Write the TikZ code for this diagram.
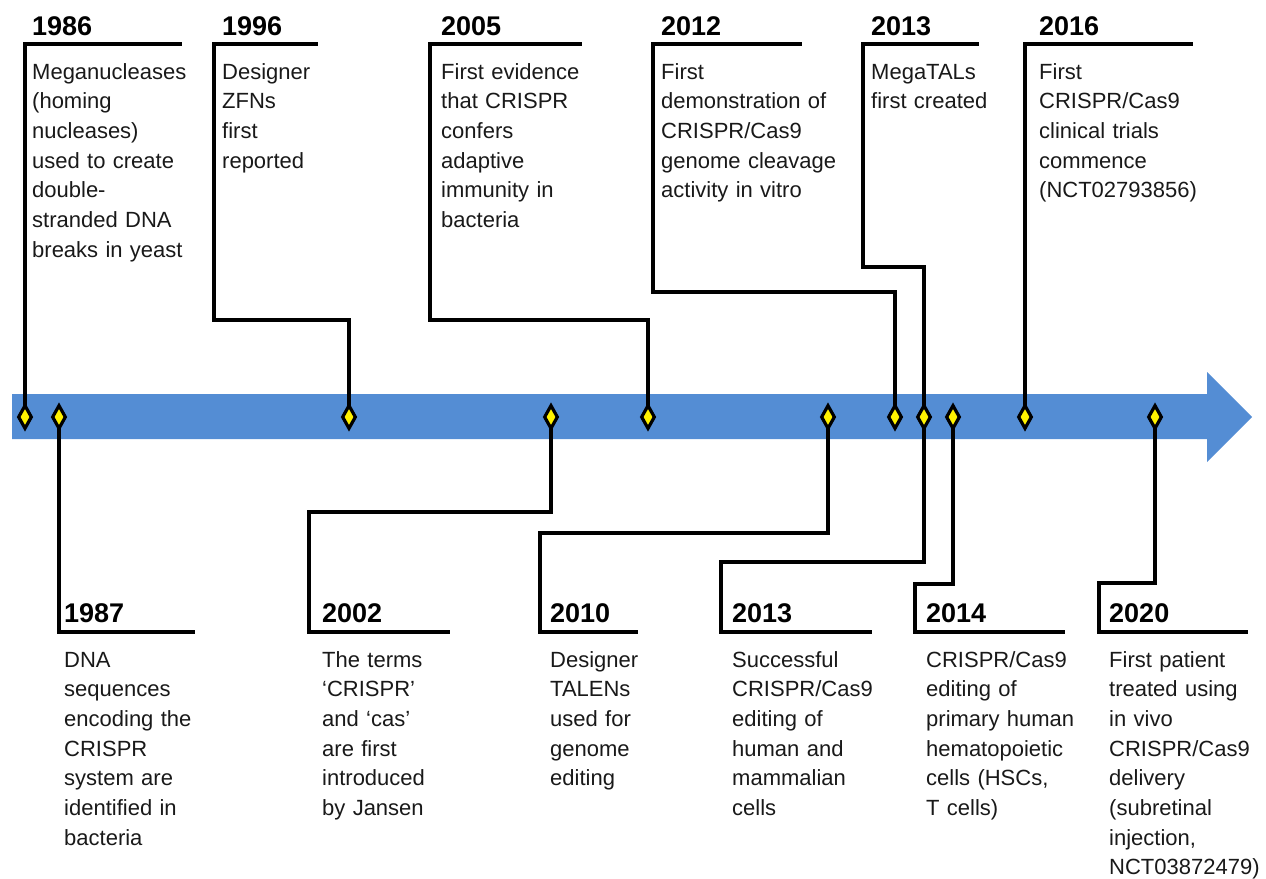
\documentclass[tikz,border=0pt]{standalone}
\usepackage{fontspec}
\setmainfont{Liberation Sans}
\usetikzlibrary{shapes.geometric}
\definecolor{band}{RGB}{84,141,212}
\definecolor{ink}{RGB}{25,25,25}

\begin{document}
\begin{tikzpicture}[x=1pt,y=-1pt,
  link/.style={line width=3.4pt},
  gem/.style={diamond,draw,line width=3.2pt,fill=yellow,inner sep=0pt,minimum width=14pt,minimum height=24pt},
  year/.style={anchor=base west,inner sep=0pt,font=\fontsize{27}{30}\selectfont\bfseries},
  note/.style={anchor=base west,inner sep=0pt,text width=220pt,align=left,text=ink,font=\fontsize{22}{29.7}\selectfont}]
\useasboundingbox (0,0) rectangle (1266,878);
% the time arrow
\fill[band] (12,394) -- (1207,394) -- (1207,372) -- (1252,417) -- (1207,462) -- (1207,439) -- (12,439) -- cycle;
% events on the arrow
\coordinate (A) at (25,417);
\coordinate (B) at (59,417);
\coordinate (C) at (349,417);
\coordinate (D) at (551,417);
\coordinate (E) at (648,417);
\coordinate (F) at (828,417);
\coordinate (G) at (895,417);
\coordinate (H) at (924,417);
\coordinate (I) at (953,417);
\coordinate (J) at (1025,417);
\coordinate (K) at (1155,417);
% corners of the callouts above
\coordinate (t86) at (25,44);   \coordinate (r86) at (182,44);
\coordinate (k96) at (214,320); \coordinate (t96) at (214,44);  \coordinate (r96) at (318,44);
\coordinate (k05) at (430,320); \coordinate (t05) at (430,44);  \coordinate (r05) at (582,44);
\coordinate (k12) at (653,292); \coordinate (t12) at (653,44);  \coordinate (r12) at (802,44);
\coordinate (k13) at (863,267); \coordinate (t13) at (863,44);  \coordinate (r13) at (979,44);
\coordinate (t16) at (1025,44); \coordinate (r16) at (1193,44);
% corners of the callouts below
\coordinate (t87) at (59,632);  \coordinate (r87) at (195,632);
\coordinate (k02) at (309,512); \coordinate (t02) at (309,632); \coordinate (r02) at (450,632);
\coordinate (k10) at (540,533); \coordinate (t10) at (540,632); \coordinate (r10) at (638,632);
\coordinate (k13b) at (721,562); \coordinate (t13b) at (721,632); \coordinate (r13b) at (872,632);
\coordinate (k14) at (915,584); \coordinate (t14) at (915,632); \coordinate (r14) at (1065,632);
\coordinate (k20) at (1099,583); \coordinate (t20) at (1099,632); \coordinate (r20) at (1248,632);
\draw[link] (A) -- (t86) -- (r86);
\draw[link] (C) |- (k96) -- (t96) -- (r96);
\draw[link] (E) |- (k05) -- (t05) -- (r05);
\draw[link] (G) |- (k12) -- (t12) -- (r12);
\draw[link] (H) |- (k13) -- (t13) -- (r13);
\draw[link] (J) -- (t16) -- (r16);
\draw[link] (B) -- (t87) -- (r87);
\draw[link] (D) |- (k02) -- (t02) -- (r02);
\draw[link] (F) |- (k10) -- (t10) -- (r10);
\draw[link] (H) |- (k13b) -- (t13b) -- (r13b);
\draw[link] (I) |- (k14) -- (t14) -- (r14);
\draw[link] (K) |- (k20) -- (t20) -- (r20);
\node[gem] (gA) at (A) {};
\node[gem] (gB) at (B) {};
\node[gem] (gC) at (C) {};
\node[gem] (gD) at (D) {};
\node[gem] (gE) at (E) {};
\node[gem] (gF) at (F) {};
\node[gem] (gG) at (G) {};
\node[gem] (gH) at (H) {};
\node[gem] (gI) at (I) {};
\node[gem] (gJ) at (J) {};
\node[gem] (gK) at (K) {};
% texts above
\node[year] (y86) at (32,35) {1986};
\node[note] (n86) at (32,79) {Meganucleases\\(homing\\nucleases)\\used to create\\double-\\stranded DNA\\breaks in yeast};
\node[year] (y96) at (222,35) {1996};
\node[note] (n96) at (222,79) {Designer\\ZFNs\\first\\reported};
\node[year] (y05) at (441,35) {2005};
\node[note] (n05) at (441,79) {First evidence\\that CRISPR\\confers\\adaptive\\immunity in\\bacteria};
\node[year] (y12) at (661,35) {2012};
\node[note] (n12) at (661,79) {First\\demonstration of\\CRISPR/Cas9\\genome cleavage\\activity in vitro};
\node[year] (y13) at (871,35) {2013};
\node[note] (n13) at (871,79) {MegaTALs\\first created};
\node[year] (y16) at (1039,35) {2016};
\node[note] (n16) at (1039,79) {First\\CRISPR/Cas9\\clinical trials\\commence\\(NCT02793856)};
% texts below
\node[year] (y87) at (64,622) {1987};
\node[note] (n87) at (64,667) {DNA\\sequences\\encoding the\\CRISPR\\system are\\identified in\\bacteria};
\node[year] (y02) at (322,622) {2002};
\node[note] (n02) at (322,667) {The terms\\‘CRISPR’\\and ‘cas’\\are first\\introduced\\by Jansen};
\node[year] (y10) at (550,622) {2010};
\node[note] (n10) at (550,667) {Designer\\TALENs\\used for\\genome\\editing};
\node[year] (y13b) at (732,622) {2013};
\node[note] (n13b) at (732,667) {Successful\\CRISPR/Cas9\\editing of\\human and\\mammalian\\cells};
\node[year] (y14) at (926,622) {2014};
\node[note] (n14) at (926,667) {CRISPR/Cas9\\editing of\\primary human\\hematopoietic\\cells (HSCs,\\T cells)};
\node[year] (y20) at (1109,622) {2020};
\node[note] (n20) at (1109,667) {First patient\\treated using\\in vivo\\CRISPR/Cas9\\delivery\\(subretinal\\injection,\\NCT03872479)};
\end{tikzpicture}
\end{document}
